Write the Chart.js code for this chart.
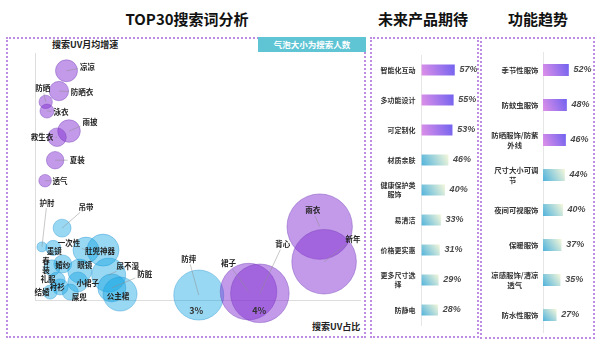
<!DOCTYPE html>
<html>
<head>
<meta charset="utf-8">
<script src="https://cdn.jsdelivr.net/npm/chart.js@4.4.1/dist/chart.umd.min.js"></script>
<style>
  html, body { margin: 0; padding: 0; background: #fff; }
  #wrap { position: relative; width: 600px; height: 359px; overflow: hidden;
          font-family: "Noto Sans CJK SC", "Noto Sans", sans-serif; color: #111; }
  .title { position: absolute; top: 8px; font-weight: bold; font-size: 15px; line-height: 22px;
           white-space: nowrap; transform: translateX(-50%); }
  .panel { position: absolute; border: 2px dotted #bd8de3; box-sizing: border-box; }
  .badge { position: absolute; left: 258px; top: 37px; width: 108px; height: 15px; background: #5fc5d5;
           color: #fff; font-size: 8.5px; line-height: 15px; text-align: center; font-weight: bold; }
  .axis-name { position: absolute; font-weight: bold; font-size: 9px; line-height: 12px; white-space: nowrap; color: #222; }
  canvas { position: absolute; top: 0; }
</style>
</head>
<body>
<div id="wrap">
  <div class="title" style="left:187px">TOP30搜索词分析</div>
  <div class="title" style="left:423px">未来产品期待</div>
  <div class="title" style="left:538px">功能趋势</div>

  <div class="panel" style="left:6px;top:37px;width:360px;height:301px"></div>
  <div class="panel" style="left:370px;top:37px;width:109px;height:301px"></div>
  <div class="panel" style="left:480px;top:37px;width:115px;height:302px"></div>
  <div class="badge">气泡大小为搜索人数</div>
  <div class="axis-name" style="left:52px;top:39px">搜索UV月均增速</div>
  <div class="axis-name" style="left:312px;top:321px">搜索UV占比</div>

  <canvas id="bubbleChart" width="370" height="359" style="left:0"></canvas>
  <canvas id="expectChart" width="114" height="359" style="left:368px"></canvas>
  <canvas id="trendChart" width="116" height="359" style="left:480px"></canvas>
</div>

<script>
// search words: share of search UV (%), monthly UV growth, searchers (10k)
var words = ['凉凉', '防晒衣', '防晒', '泳衣', '雨披', '救生衣', '夏装', '透气',
  '吊带', '护肘', '墨镜', '一次性', '肚兜神器', '婚纱', '眼镜', '春装', '礼服', '衬衫', '结婚',
  '小裙子', '屎兜', '尿不湿', '防脏', '公主裙', '防摔', '裙子', '背心', '雨衣', '新年'];
var share = [0.94, 0.82, 0.61, 0.63, 0.98, 0.79, 0.76, 0.60,
  0.87, 0.55, 0.73, 1.25, 1.52, 0.88, 1.15, 0.71, 0.79, 0.84, 0.68,
  1.12, 1.00, 1.61, 1.66, 1.79, 3.04, 3.83, 4.01, 4.96, 5.03];
var growth = [92.8, 84.6, 80.2, 76.5, 68.4, 65.9, 56.6, 48.3,
  29.1, 21.5, 21.1, 20.2, 20.2, 14.6, 11.7, 13.0, 8.1, 5.3, 3.2,
  7.3, 3.2, 10.1, 4.9, 2.4, 2.0, 3.4, 2.7, 29.7, 15.5];
var searchers = [11.1, 8.6, 4.1, 4.5, 11.7, 7.9, 7.0, 3.6,
  7.4, 2.3, 5.2, 15.5, 23.5, 7.4, 13.2, 5.9, 5.9, 5.9, 4.5,
  9.2, 5.9, 26.5, 18.0, 26.5, 57.4, 73.5, 78.8, 98.2, 95.8];
var shareTicks = [3, 4];

var expectLabels = ['智能化互动', '多功能设计', '可定制化', '材质亲肤', ['健康保护类', '服饰\u3000\u3000'],
  '易清洁', '价格更实惠', ['更多尺寸选', '择\u3000\u3000'], '防静电'];
var expectValues = [57, 55, 53, 46, 40, 33, 31, 29, 28];

var trendLabels = ['季节性服饰', '防蚊虫服饰', ['防晒服饰/防紫', '外线\u3000\u3000 '], ['尺寸大小可调', '节\u3000\u3000\u3000'],
  '夜间可视服饰', '保暖服饰', ['凉感服饰/清凉', '透气\u3000\u3000 '], '防水性服饰'];
var trendValues = [52, 48, 46, 44, 40, 37, 35, 27];

// label offsets from bubble centre, in px (layout only)
var tagShift = [[21, -4], [23, 1], [-3, -14], [14, 1], [21, -9], [-15, 0], [22, 0], [15, 0],
  [24, -21], [5, -44], [1, 3], [-17, -7], [-3, 1], [0, 1], [5, -6], [-6, -2, 'v'], [-9, -1], [-3, 0], [-8, 0],
  [10, 1], [9, 5], [19, -9], [33, -14], [-2, 2], [-10, -36], [-20, -28], [23, -49], [-7, -16], [29, -23]];

var FONT = '"Noto Sans CJK SC", "Noto Sans", sans-serif';
var PURPLE = 'rgba(127, 41, 208, 0.47)';
var PURPLE_EDGE = 'rgba(120, 70, 185, 0.55)';
var BLUE = 'rgba(12, 162, 226, 0.42)';
var BLUE_EDGE = 'rgba(40, 150, 210, 0.5)';

Chart.defaults.font.family = FONT;
Chart.defaults.animation = false;

function isHot(i) {
  return growth[i] > 40 || share[i] > 3.5;
}

var bubbleTags = {
  id: 'bubbleTags',
  afterDatasetsDraw: function (chart) {
    var ctx = chart.ctx;
    var pts = chart.getDatasetMeta(0).data;
    ctx.save();
    ctx.font = 'bold 7.5px ' + FONT;
    ctx.textAlign = 'center';
    ctx.textBaseline = 'middle';
    pts.forEach(function (pt, i) {
      var s = tagShift[i];
      var lx = pt.x + s[0], ly = pt.y + s[1];
      var lines = s[2] === 'v' ? words[i].split('') : [words[i]];
      var w = ctx.measureText(lines[0]).width;
      var h = lines.length * 8.5;
      var dx = pt.x - lx, dy = pt.y - ly;
      if (Math.sqrt(dx * dx + dy * dy) > 13) {
        var t = Math.min((w / 2 + 2) / Math.abs(dx || 1e-6), (h / 2 + 1) / Math.abs(dy || 1e-6));
        ctx.strokeStyle = 'rgba(140, 140, 140, 0.8)';
        ctx.lineWidth = 0.6;
        ctx.beginPath();
        ctx.moveTo(pt.x, pt.y);
        ctx.lineTo(lx + dx * t, ly + dy * t);
        ctx.stroke();
      }
      ctx.fillStyle = '#222';
      lines.forEach(function (line, k) {
        ctx.fillText(line, lx, ly + (k - (lines.length - 1) / 2) * 8.5);
      });
    });
    ctx.restore();
  }
};

new Chart(document.getElementById('bubbleChart'), {
  type: 'bubble',
  data: {
    datasets: [{
      data: words.map(function (w, i) {
        return { x: share[i], y: growth[i], r: Math.sqrt(searchers[i]) * 3.3 };
      }),
      backgroundColor: words.map(function (w, i) { return isHot(i) ? PURPLE : BLUE; }),
      borderColor: words.map(function (w, i) { return isHot(i) ? PURPLE_EDGE : BLUE_EDGE; }),
      borderWidth: 0.8,
      clip: false
    }]
  },
  options: {
    responsive: false,
    events: [],
    layout: { padding: { left: 35, top: 53, right: 10, bottom: 39 }, autoPadding: false },
    plugins: { legend: { display: false }, tooltip: { enabled: false } },
    scales: {
      x: {
        type: 'linear', min: 0.44, max: 5.6,
        grid: { display: false, drawTicks: false },
        border: { display: true, color: '#dddddd' },
        ticks: {
          z: 1, padding: 5, color: '#333',
          font: { size: 9, weight: 'bold' },
          callback: function (v) { return v + '%'; }
        },
        afterBuildTicks: function (scale) {
          scale.ticks = shareTicks.map(function (v) { return { value: v }; });
        },
        afterFit: function (scale) { scale.height = 20; }
      },
      y: {
        min: 0, max: 100,
        grid: { display: false, drawTicks: false },
        border: { display: true, color: '#dddddd' },
        ticks: { display: false },
        afterFit: function (scale) { scale.width = 0; }
      }
    }
  },
  plugins: [bubbleTags]
});

function barFill(ctx) {
  var chart = ctx.chart;
  if (!chart.chartArea || ctx.type !== 'data') return '#8fd0e8';
  var x0 = chart.scales.x.getPixelForValue(0);
  var x1 = chart.scales.x.getPixelForValue(ctx.raw);
  var yc = chart.scales.y.getPixelForValue(ctx.dataIndex);
  var g;
  if (ctx.dataIndex < 3) {
    g = chart.ctx.createLinearGradient(x0, yc + 5, x1, yc - 5);
    g.addColorStop(0, '#de90e8');
    g.addColorStop(1, '#7363ef');
  } else {
    g = chart.ctx.createLinearGradient(x0, yc + 6, x1, yc - 6);
    g.addColorStop(0, '#4fb2dc');
    g.addColorStop(1, '#f4f7da');
  }
  return g;
}

var pctLabels = {
  id: 'pctLabels',
  afterDatasetsDraw: function (chart) {
    var ctx = chart.ctx;
    ctx.save();
    ctx.font = 'italic bold 9px "Liberation Sans", sans-serif';
    ctx.fillStyle = '#4a4a4a';
    ctx.textAlign = 'left';
    ctx.textBaseline = 'middle';
    chart.getDatasetMeta(0).data.forEach(function (bar, i) {
      ctx.fillText(chart.data.datasets[0].data[i] + '%', bar.x + 5, bar.y);
    });
    ctx.restore();
  }
};

function makeBars(id, labels, values, opts) {
  return new Chart(document.getElementById(id), {
    type: 'bar',
    data: {
      labels: labels,
      datasets: [{ data: values, backgroundColor: barFill, barThickness: opts.thickness, borderWidth: 0 }]
    },
    options: {
      indexAxis: 'y',
      responsive: false,
      events: [],
      layout: { padding: { left: 0, top: opts.top, right: opts.right, bottom: opts.bottom }, autoPadding: false },
      plugins: { legend: { display: false }, tooltip: { enabled: false } },
      scales: {
        x: { display: false, min: 0, max: 100 },
        y: {
          grid: { display: false, drawTicks: false },
          border: { display: true, color: '#e6e6e6' },
          ticks: {
            color: '#333', padding: opts.pad,
            font: { size: opts.font, weight: 'bold', lineHeight: 1.3 }
          },
          afterFit: function (scale) { scale.width = opts.axis; }
        }
      }
    },
    plugins: [pctLabels]
  });
}

makeBars('expectChart', expectLabels, expectValues,
  { axis: 53.5, top: 55, bottom: 34, right: 2.7, thickness: 10.5, pad: 6, font: 7 });
makeBars('trendChart', trendLabels, trendValues,
  { axis: 63, top: 52.5, bottom: 26.5, right: 4, thickness: 11.5, pad: 4.5, font: 7.4 });
</script>
</body>
</html>
